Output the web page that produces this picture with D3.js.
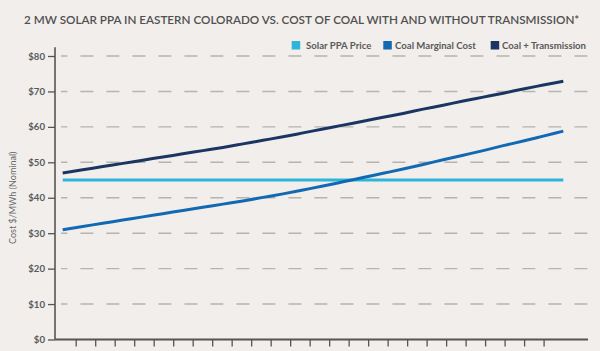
<!DOCTYPE html>
<html>
<head>
<meta charset="utf-8">
<script src="https://cdn.jsdelivr.net/npm/d3@7"></script>
<style>
  body { margin: 0; background: #f1eeeb; }
  svg { display: block; font-family: Lato, "Open Sans", sans-serif; }
</style>
</head>
<body>
<svg></svg>
<script>
const width = 600;
const height = 351;

// data
const years = [2017, 2018, 2019, 2020, 2021, 2022, 2023, 2024, 2025, 2026, 2027, 2028, 2029,
  2030, 2031, 2032, 2033, 2034, 2035, 2036, 2037, 2038, 2039, 2040, 2041, 2042];
const solarPPA = [45, 45, 45, 45, 45, 45, 45, 45, 45, 45, 45, 45, 45,
  45, 45, 45, 45, 45, 45, 45, 45, 45, 45, 45, 45, 45];
const coalMarginal = [31.0, 31.9, 32.8, 33.7, 34.6, 35.5, 36.4, 37.3, 38.2, 39.1, 40.1, 41.1, 42.2,
  43.3, 44.5, 45.7, 46.9, 48.1, 49.4, 50.7, 52.0, 53.3, 54.7, 56.0, 57.4, 58.8];
const coalTransmission = [47.0, 47.9, 48.8, 49.7, 50.6, 51.5, 52.4, 53.3, 54.2, 55.2, 56.2, 57.2, 58.3,
  59.4, 60.5, 61.6, 62.7, 63.8, 65.0, 66.1, 67.3, 68.4, 69.5, 70.7, 71.8, 72.9];
const yTicks = [0, 10, 20, 30, 40, 50, 60, 70, 80];
const xTickCount = 25; // unlabeled ticks on the bottom axis

const seriesNames = ["Solar PPA Price", "Coal Marginal Cost", "Coal + Transmission"];
const seriesColors = ["#2db6d9", "#1169b3", "#1b3461"];
const seriesValues = [solarPPA, coalMarginal, coalTransmission];

const svg = d3.select("svg")
  .attr("width", width)
  .attr("height", height);

svg.append("rect")
  .attr("width", width)
  .attr("height", height)
  .attr("fill", "#f1eeeb");

const axisLeftX = 55;
const axisRightX = 588;

const x = d3.scaleLinear()
  .domain(d3.extent(years))
  .range([62.7, 563.3]);

const y = d3.scaleLinear()
  .domain([0, 80])
  .range([339.5, 56]);

// tick marks on the x axis sit on their own even spacing
const xTick = d3.scalePoint()
  .domain(d3.range(xTickCount))
  .range([75.7, 543.6]);

// title, shrunk until it fits the width the reference uses
const title = svg.append("text")
  .attr("x", 24)
  .attr("y", 24)
  .attr("font-size", 13.5)
  .attr("font-weight", 600)
  .attr("fill", "#505050")
  .text("2 MW SOLAR PPA IN EASTERN COLORADO VS. COST OF COAL WITH AND WITHOUT TRANSMISSION*");
let titleSize = 13.5;
while (title.node().getComputedTextLength() > 560 && titleSize > 8) {
  titleSize -= 0.1;
  title.attr("font-size", titleSize);
}

// legend
const legendX = [291.7, 383.3, 490.7];
const legendTextX = [306, 395, 502];
const legend = svg.append("g");
seriesNames.forEach(function(name, i) {
  legend.append("rect")
    .attr("x", legendX[i])
    .attr("y", 41)
    .attr("width", 8.5)
    .attr("height", 8.5)
    .attr("fill", seriesColors[i]);
  legend.append("text")
    .attr("x", legendTextX[i])
    .attr("y", 48.8)
    .attr("font-size", 9.6)
    .attr("font-weight", 700)
    .attr("fill", "#5a5a5a")
    .text(name);
});

// dashed grid
svg.append("g")
  .selectAll("line")
  .data(yTicks.filter(d => d > 0))
  .join("line")
  .attr("x1", 61)
  .attr("x2", axisRightX)
  .attr("y1", d => y(d))
  .attr("y2", d => y(d))
  .attr("stroke", "#b7b3af")
  .attr("stroke-width", 1.4)
  .attr("stroke-dasharray", "13,13")
  .attr("stroke-dashoffset", 6.6);

// y axis
const yAxis = svg.append("g")
  .attr("transform", `translate(${axisLeftX},0)`)
  .call(d3.axisLeft(y)
    .tickValues(yTicks)
    .tickSize(7)
    .tickPadding(3)
    .tickFormat(d => "$" + d));
yAxis.select(".domain").remove();
yAxis.selectAll(".tick line")
  .attr("stroke", "#555")
  .attr("stroke-width", 1.3);
yAxis.selectAll(".tick text")
  .attr("font-family", "Lato, 'Open Sans', sans-serif")
  .attr("font-size", 9.6)
  .attr("font-weight", 700)
  .attr("fill", "#5a5a5a");

svg.append("line")
  .attr("x1", axisLeftX)
  .attr("x2", axisLeftX)
  .attr("y1", y(0))
  .attr("y2", y(82.5))
  .attr("stroke", "#555")
  .attr("stroke-width", 1.6);

// x axis
const xAxis = svg.append("g")
  .attr("transform", `translate(0,${y(0)})`)
  .call(d3.axisBottom(xTick)
    .tickSize(7)
    .tickSizeOuter(0)
    .tickFormat(""));
xAxis.select(".domain").remove();
xAxis.selectAll(".tick line")
  .attr("stroke", "#555")
  .attr("stroke-width", 1.3);

svg.append("line")
  .attr("x1", axisLeftX)
  .attr("x2", axisRightX)
  .attr("y1", y(0))
  .attr("y2", y(0))
  .attr("stroke", "#555")
  .attr("stroke-width", 1.8);

// y axis title
svg.append("text")
  .attr("transform", `translate(16,${(y(0) + y(80)) / 2}) rotate(-90)`)
  .attr("text-anchor", "middle")
  .attr("font-size", 9)
  .attr("fill", "#6a6a6a")
  .text("Cost $/MWh (Nominal)");

// lines
const line = d3.line()
  .x((d, i) => x(years[i]))
  .y(d => y(d))
  .curve(d3.curveMonotoneX);

svg.append("g")
  .selectAll("path")
  .data(seriesValues)
  .join("path")
  .attr("d", line)
  .attr("fill", "none")
  .attr("stroke", (d, i) => seriesColors[i])
  .attr("stroke-width", 3);
</script>
</body>
</html>
